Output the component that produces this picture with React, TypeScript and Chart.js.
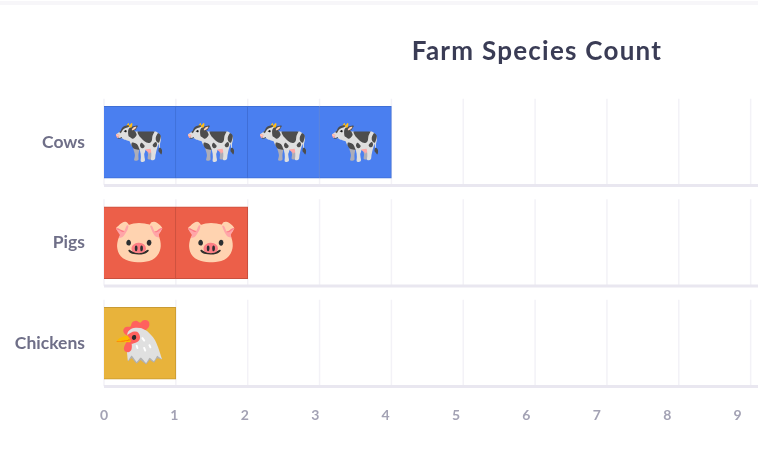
import React, { useEffect, useRef } from "react";
import { Chart, registerables } from "chart.js";

Chart.register(...registerables);

const categories = ["Cows", "Pigs", "Chickens"];
const counts = [4, 2, 1];
const barColors = ["#4a7ff0", "#ec5f49", "#e8b33b"];
const borderColors = ["#3f6fd6", "#c9503e", "#c99b33"];
const emojis = ["🐄", "🐷", "🐔"];
const tickValues = [0, 1, 2, 3, 4, 5, 6, 7, 8, 9];
const title = "Farm Species Count";
const FONT = "Lato, 'Noto Sans', sans-serif";

const panelPlugin = {
  id: "panels",
  beforeDatasetsDraw(chart: any) {
    const { ctx, scales } = chart;
    const x = scales.x;
    const y = scales.y;
    categories.forEach((_, i) => {
      const c = y.getPixelForValue(i);
      ctx.save();
      ctx.strokeStyle = "#f3f2f7";
      ctx.lineWidth = 1.5;
      tickValues.forEach((t) => {
        const px = x.getPixelForValue(t);
        ctx.beginPath();
        ctx.moveTo(px, c - 43.5);
        ctx.lineTo(px, c + 43);
        ctx.stroke();
      });
      ctx.strokeStyle = "#e9e7f0";
      ctx.lineWidth = 3;
      ctx.beginPath();
      ctx.moveTo(x.left, c + 43.2);
      ctx.lineTo(x.right, c + 43.2);
      ctx.stroke();
      ctx.restore();
    });
  },
  afterDatasetsDraw(chart: any) {
    const { ctx, scales } = chart;
    const x = scales.x;
    const y = scales.y;
    ctx.save();
    ctx.font = "42px 'Noto Color Emoji', sans-serif";
    ctx.textAlign = "center";
    ctx.textBaseline = "middle";
    categories.forEach((_, i) => {
      for (let u = 0; u < counts[i]; u++) {
        ctx.fillText(emojis[i], x.getPixelForValue(u + 0.5), y.getPixelForValue(i));
      }
    });
    ctx.restore();
  },
};

export default function App() {
  const ref = useRef<HTMLCanvasElement>(null);
  useEffect(() => {
    document.body.style.margin = "0";
    const maxCount = Math.max(...counts);
    const datasets = Array.from({ length: maxCount }, (_, u) => ({
      label: `unit ${u + 1}`,
      data: counts.map((c) => (c > u ? 1 : null)),
      backgroundColor: barColors,
      borderColor: borderColors,
      borderWidth: 1,
      barThickness: 72,
      xAxisID: "x",
      yAxisID: "y",
    }));
    const chart = new Chart(ref.current!, {
      type: "bar",
      data: { labels: categories, datasets },
      plugins: [panelPlugin],
      options: {
        indexAxis: "y",
        responsive: false,
        animation: false,
        layout: { padding: { top: 92, left: 0, right: 0, bottom: 0 } },
        plugins: {
          legend: { display: false },
          tooltip: { enabled: false },
        },
        scales: {
          x: {
            type: "linear",
            stacked: true,
            position: "bottom",
            min: 0,
            max: 654 / 71.85,
            grid: { display: false },
            border: { display: false },
            ticks: { display: false },
            afterFit: (s: any) => { s.height = 0; },
          },
          xLabels: {
            type: "linear",
            position: "bottom",
            min: 0,
            max: 654 / 70.4,
            grid: { display: false },
            border: { display: false },
            afterBuildTicks: (s: any) => { s.ticks = tickValues.map((value) => ({ value })); },
            ticks: {
              autoSkip: false,
              maxRotation: 0,
              padding: 6,
              color: "#a3a2b4",
              font: { family: FONT, size: 14, weight: "bold" },
            },
            afterFit: (s: any) => { s.height = 66.5; },
          },
          y: {
            type: "category",
            stacked: true,
            position: "left",
            grid: { display: false },
            border: { display: false },
            ticks: {
              padding: 11,
              color: "#6f6f88",
              font: { family: FONT, size: 17.5, weight: "bold" },
            },
            afterFit: (s: any) => { s.width = 104; },
          },
        },
      },
    } as any);
    return () => chart.destroy();
  }, []);
  return (
    <div style={{ position: "relative", width: 758, height: 460, background: "#ffffff", overflow: "hidden" }}>
      <div style={{ position: "absolute", left: 0, top: 1, width: 758, height: 4, background: "#f7f6f9" }} />
      <canvas ref={ref} width={758} height={460} style={{ position: "absolute", left: 0, top: 0, display: "block" }} />
      <div style={{ position: "absolute", left: 316, top: 34, width: 442, textAlign: "center", font: `bold 26px ${FONT}`, color: "#3a3c55", letterSpacing: 1.25 }}>{title}</div>
    </div>
  );
}
